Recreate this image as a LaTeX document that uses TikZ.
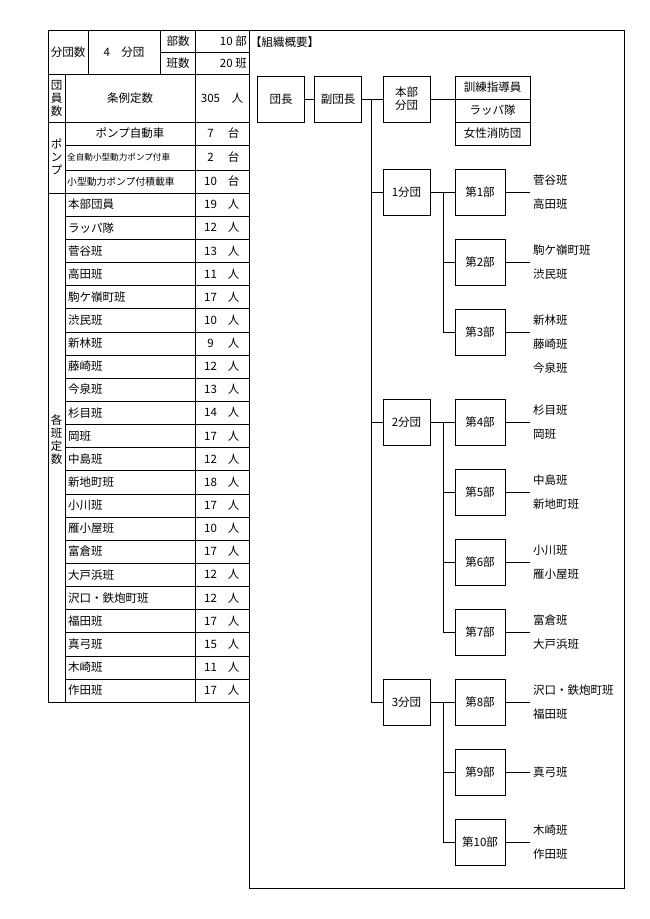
\documentclass[tikz,border=0pt]{standalone}
\usepackage{fontspec}
\setmainfont{Noto Sans CJK JP}
\begin{document}
\begin{tikzpicture}[x=1pt,y=-1pt,
  lbl/.style={font=\fontsize{11.5}{13}\selectfont,inner sep=0pt},
  bx/.style={draw,thick,minimum width=47pt,minimum height=46pt,inner sep=1pt,font=\fontsize{11.5}{13}\selectfont,align=center},
  pb/.style={draw,thick,minimum width=50pt,minimum height=46pt,inner sep=1pt,font=\fontsize{11.5}{13}\selectfont},
  ln/.style={semithick}]
\useasboundingbox (0,0) rectangle (650,919);
% ---------- left table ----------
\draw[thick] (48,30) rectangle (249,702);
\draw[thick] (48,74) -- (249,74);
\draw[thick] (48,122) -- (249,122);
\draw[thick] (48,193) -- (249,193);
\draw (88,30) -- (88,74);
\draw (160,30) -- (160,74);
\draw (195,30) -- (195,702);
\draw (160,52) -- (249,52);
\draw (65,74) -- (65,702);
\foreach \y in {145,170} \draw (65,\y) -- (249,\y);
\foreach \i in {1,...,21} \draw (65,{193+\i*23.136}) -- (249,{193+\i*23.136});
\node[lbl] (fdn) at (68,52) {分団数};
\node[lbl] (fdv) at (124,52) {4\quad 分団};
\node[lbl] (bs) at (178,41) {部数};
\node[lbl] (hs) at (178,63) {班数};
\node[lbl,anchor=east] (bsv) at (247,41) {10 部};
\node[lbl,anchor=east] (hsv) at (247,63) {20 班};
\node[lbl,align=center] (dan) at (56.5,98) {団\\員\\数};
\node[lbl] (jr) at (130,98) {条例定数};
\node[lbl] (jrv) at (222,98) {305\quad 人};
\node[lbl,align=center] (pmp) at (56.5,157) {ポ\\ン\\プ};
\node[lbl] (p1) at (130,133.5) {ポンプ自動車};
\node[lbl,font=\fontsize{8.6}{10}\selectfont,anchor=west] (p2) at (67,157.5) {全自動小型動力ポンプ付車};
\node[lbl,font=\fontsize{9.8}{10}\selectfont,anchor=west] (p3) at (67,181.5) {小型動力ポンプ付積載車};
\node[lbl] (p1v) at (222,133.5) {\makebox[12pt][c]{7}\quad 台};
\node[lbl] (p2v) at (222,157.5) {\makebox[12pt][c]{2}\quad 台};
\node[lbl] (p3v) at (222,181.5) {\makebox[12pt][c]{10}\quad 台};
\node[lbl,align=center] (kh) at (56.5,440) {各\\班\\定\\数};
\foreach \n/\v [count=\i from 0] in {本部団員/19,ラッパ隊/12,菅谷班/13,高田班/11,駒ケ嶺町班/17,渋民班/10,新林班/9,藤崎班/12,今泉班/13,杉目班/14,岡班/17,中島班/12,新地町班/18,小川班/17,雁小屋班/10,富倉班/17,大戸浜班/12,沢口・鉄炮町班/12,福田班/17,真弓班/15,木崎班/11,作田班/17}{
  \node[lbl,anchor=west] (m\i) at (68,{204.5+\i*23.136}) {\n};
  \node[lbl] (mv\i) at (222,{204.5+\i*23.136}) {\makebox[12pt][c]{\v}\quad 人};
}
% ---------- right chart ----------
\draw[thick] (249,30) rectangle (624,888);
\node[lbl,anchor=west] (title) at (250,42) {【組織概要】};
\node[bx] (dc) at (281,99) {団長};
\node[bx] (fdc) at (338,99) {副団長};
\node[bx] (hb) at (406.5,99) {本部\\分団};
\node[draw,thick,minimum width=75pt,minimum height=23pt,lbl] (k1) at (492.5,87.5) {訓練指導員};
\node[draw,thick,minimum width=75pt,minimum height=23pt,lbl] (k2) at (492.5,110.5) {ラッパ隊};
\node[draw,thick,minimum width=75pt,minimum height=23pt,lbl] (k3) at (492.5,133.5) {女性消防団};
\draw[ln] (dc) -- (fdc);
\draw[ln] (fdc) -- (hb);
\draw[ln] (hb.east) -- (hb.east -| k2.west);
\coordinate (tt) at (371,99);
\coordinate (tb) at (371,702);
\draw[ln] (tt) -- (tb);
\foreach \n/\y [count=\i] in {1分団/192,2分団/422,3分団/702}{
  \node[bx] (d\i) at (406.5,\y) {\n};
  \draw[ln] (371,\y) -- (d\i.west);
}
\foreach \n/\y [count=\i] in {1/192,2/262,3/332,4/422,5/492,6/562,7/632,8/702,9/772,10/842}{
  \node[pb] (b\i) at (480,\y) {第\n 部};
  \draw[ln] (443,\y) -- (b\i.west);
  \coordinate (e\i) at (530,\y);
  \draw[ln] (b\i.east) -- (e\i);
}
\draw[ln] (d1.east) -- (443,192) -- (443,332);
\draw[ln] (d2.east) -- (443,422) -- (443,632);
\draw[ln] (d3.east) -- (443,702) -- (443,842);
\foreach \y/\n [count=\i] in {180/菅谷班,204/高田班,250/駒ケ嶺町班,274/渋民班,320/新林班,344/藤崎班,368/今泉班,410/杉目班,434/岡班,480/中島班,504/新地町班,550/小川班,574/雁小屋班,620/富倉班,644/大戸浜班,690/沢口・鉄炮町班,714/福田班,772/真弓班,830/木崎班,854/作田班}{
  \node[lbl,anchor=west] (h\i) at (533,\y) {\n};
}
\end{tikzpicture}
\end{document}
